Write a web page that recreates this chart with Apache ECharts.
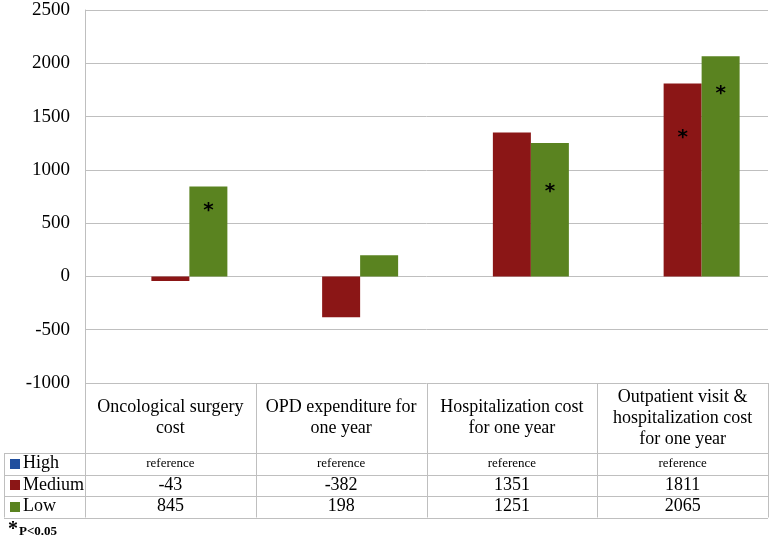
<!DOCTYPE html>
<html><head><meta charset="utf-8">
<script src="https://cdn.jsdelivr.net/npm/echarts@6/dist/echarts.min.js"></script>
<style>html,body{margin:0;padding:0;background:#fff}#c{width:773px;height:541px}</style>
</head><body><div id="c"></div>
<script>
const categories = ['Oncological surgery\ncost', 'OPD expenditure for\none year', 'Hospitalization cost\nfor one year', 'Outpatient visit &\nhospitalization cost\nfor one year'];
const seriesNames = ['High', 'Medium', 'Low'];
const highValues = [null, null, null, null];
const highLabels = ['reference', 'reference', 'reference', 'reference'];
const mediumValues = [-43, -382, 1351, 1811];
const lowValues = [845, 198, 1251, 2065];
// significance star positions (value units), null = none
const mediumStars = [null, null, null, 1346];
const lowStars = [661, null, 842, 1764];
const yMin = -1000, yMax = 2500, yStep = 500;

const colors = ['#1F4E9E', '#8B1616', '#5A8320'];
const serif = 'Liberation Serif';
const gridColor = '#bfbfbf';

const chart = echarts.init(document.getElementById('c'));

function starPoints(arr) {
  const out = [];
  arr.forEach((v, i) => { if (v != null) out.push({ coord: [i, v] }); });
  return out;
}
function starMark(arr) {
  return {
    symbol: 'circle', symbolSize: 1, silent: true,
    itemStyle: { color: 'rgba(0,0,0,0)' },
    label: { show: true, formatter: '*', position: 'inside', color: '#000', fontSize: 20, fontWeight: 'bold', fontFamily: 'DejaVu Sans', offset: [0, 5] },
    data: starPoints(arr)
  };
}

const gridL = 85, gridR = 5, gridT = 10, gridB = 158;

chart.setOption({
  animation: false,
  backgroundColor: '#fff',
  grid: { left: gridL, right: gridR, top: gridT, bottom: gridB, containLabel: false, outerBoundsMode: 'none' },
  xAxis: {
    type: 'category', data: categories,
    axisLine: { show: false }, axisTick: { show: false },
    axisLabel: { interval: 0, fontSize: 18, lineHeight: 21, fontFamily: serif, color: '#000', verticalAlign: 'middle', margin: 35 }
  },
  yAxis: {
    type: 'value', min: yMin, max: yMax, interval: yStep,
    axisLine: { show: true, lineStyle: { color: gridColor } },
    axisTick: { show: false },
    axisLabel: { fontSize: 19, fontFamily: serif, color: '#000', margin: 15, formatter: v => String(v) },
    splitLine: { lineStyle: { color: gridColor, width: 1 } }
  },
  series: [
    { name: seriesNames[0], type: 'bar', data: highValues, barWidth: 38, barGap: '0%', itemStyle: { color: colors[0] } },
    { name: seriesNames[1], type: 'bar', data: mediumValues, barWidth: 38, barGap: '0%', itemStyle: { color: colors[1] }, markPoint: starMark(mediumStars) },
    { name: seriesNames[2], type: 'bar', data: lowValues, barWidth: 38, barGap: '0%', itemStyle: { color: colors[2] }, markPoint: starMark(lowStars) }
  ]
});

// ---- data table below the plot ----
const W = 773, H = 541;
const plotBottom = H - gridB;            // 383
const plotRight = W - gridR;             // 768
const catW = (plotRight - gridL) / categories.length;
const headerBottom = 453;
const rowH = 21.5;
const rowsY = [headerBottom, headerBottom + rowH, headerBottom + 2 * rowH, headerBottom + 3 * rowH];
const tableLeft = 4;
const g = [];
const ls = { stroke: gridColor, lineWidth: 1 };
function hline(x1, x2, y) { g.push({ type: 'line', shape: { x1, y1: Math.round(y) + 0.5, x2, y2: Math.round(y) + 0.5 }, style: ls, silent: true }); }
function vline(x, y1, y2) { g.push({ type: 'line', shape: { x1: Math.round(x) + 0.5, y1, x2: Math.round(x) + 0.5, y2 }, style: ls, silent: true }); }
rowsY.forEach(y => hline(tableLeft, plotRight, y));
vline(tableLeft, rowsY[0], rowsY[3]);
vline(gridL, plotBottom, rowsY[3]);
for (let i = 1; i <= categories.length; i++) vline(gridL + i * catW, plotBottom, rowsY[3]);

const rows = [
  { name: seriesNames[0], color: colors[0], vals: highLabels, size: 13 },
  { name: seriesNames[1], color: colors[1], vals: mediumValues.map(String), size: 18 },
  { name: seriesNames[2], color: colors[2], vals: lowValues.map(String), size: 18 }
];
rows.forEach((r, ri) => {
  const cy = (rowsY[ri] + rowsY[ri + 1]) / 2;
  g.push({ type: 'rect', shape: { x: 10, y: Math.round(cy - 5), width: 10, height: 10 }, style: { fill: r.color }, silent: true });
  g.push({ type: 'text', x: 23, y: cy, style: { text: r.name, fontSize: 18, fontFamily: serif, fill: '#000', verticalAlign: 'middle', align: 'left' }, silent: true });
  r.vals.forEach((v, ci) => {
    const cx = chart.convertToPixel({ xAxisIndex: 0 }, ci);
    g.push({ type: 'text', x: cx, y: cy, style: { text: v, fontSize: r.size, fontFamily: serif, fill: '#000', verticalAlign: 'middle', align: 'center' }, silent: true });
  });
});
g.push({ type: 'text', x: 8, y: 530, style: { text: '*', fontSize: 20, fontWeight: 'bold', fontFamily: serif, fill: '#000', verticalAlign: 'middle' }, silent: true });
g.push({ type: 'text', x: 19, y: 532, style: { text: 'P<0.05', fontSize: 13, fontWeight: 'bold', fontFamily: serif, fill: '#000', verticalAlign: 'middle' }, silent: true });

chart.setOption({ graphic: g });
</script>
</body></html>
